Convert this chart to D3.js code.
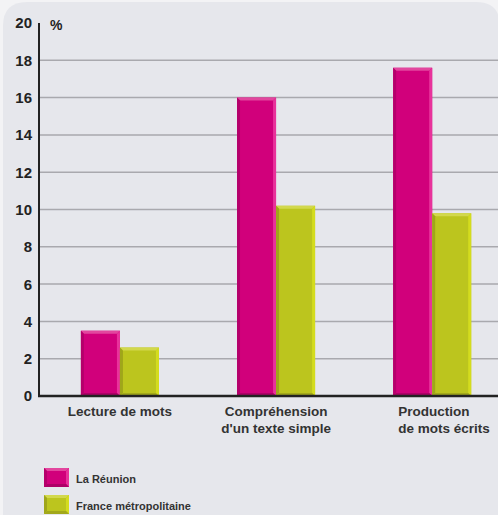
<!DOCTYPE html>
<html>
<head>
<meta charset="utf-8">
<script src="https://cdn.jsdelivr.net/npm/d3@7"></script>
<style>
  html, body { margin: 0; padding: 0; background: #f3f3f5; }
  svg { display: block; font-family: "Liberation Sans", Arial, sans-serif; }
</style>
</head>
<body>
<div id="chart"></div>
<script>
// Values
const categories = ["Lecture de mots", "Compréhension d'un texte simple", "Production de mots écrits"];
const categoryLines = [["Lecture de mots"], ["Compréhension", "d'un texte simple"], ["Production", "de mots écrits"]];
const seriesNames = ["La Réunion", "France métropolitaine"];
const reunionValues = [3.5, 16.0, 17.6];
const franceValues = [2.6, 10.2, 9.8];
const yTicks = [0, 2, 4, 6, 8, 10, 12, 14, 16, 18, 20];

// bevel colours per series: main, top, left, right, bottom
const palette = {
  "La Réunion": { main: "#d1007b", top: "#e2469e", left: "#b5006b", right: "#e8329b", bottom: "#ad0067" },
  "France métropolitaine": { main: "#bcc51e", top: "#d2d84c", left: "#9fa61a", right: "#d4dc1e", bottom: "#a2a81b" }
};

const width = 498, height = 515;
const svg = d3.select("#chart").append("svg")
  .attr("width", width)
  .attr("height", height);

// Panel background (rounded top corners)
const px0 = 3, py0 = 2, px1 = 500, r = 24;
svg.append("path")
  .attr("d", `M ${px0} ${height + 5} L ${px0} ${py0 + r} Q ${px0} ${py0} ${px0 + r} ${py0} L ${px1 - r} ${py0} Q ${px1} ${py0} ${px1} ${py0 + r} L ${px1} ${height + 5} Z`)
  .attr("fill", "#e6e7ec");

const axisX = 39, baseY = 396, topY = 23;

const y = d3.scaleLinear().domain([0, 20]).range([baseY, topY]);

const x = d3.scaleBand()
  .domain(categories)
  .range([axisX, width])
  .paddingInner(0.5)
  .paddingOuter(0.22)
  .align(0.61);

const xs = d3.scaleBand()
  .domain(seriesNames)
  .range([0, x.bandwidth()]);

// Gridlines
svg.append("g")
  .selectAll("line")
  .data(yTicks.filter(t => t > 0 && t < 20))
  .enter()
  .append("line")
  .attr("x1", axisX)
  .attr("x2", width)
  .attr("y1", d => y(d))
  .attr("y2", d => y(d))
  .attr("stroke", "#a9a9ae")
  .attr("stroke-width", 1.5);

// Tick labels
svg.append("g")
  .selectAll("text")
  .data(yTicks)
  .enter()
  .append("text")
  .attr("x", 32)
  .attr("y", d => y(d))
  .attr("dy", "0.36em")
  .attr("text-anchor", "end")
  .attr("font-size", "15px")
  .attr("font-weight", "bold")
  .attr("fill", "#222")
  .text(d => d);

svg.append("text")
  .attr("x", 50)
  .attr("y", 30)
  .attr("font-size", "14px")
  .attr("font-weight", "bold")
  .attr("fill", "#222")
  .text("%");

// Bevelled bar drawing
function bevelBar(g, x0, y0, w, h, c) {
  const b = 3;
  const x1 = x0 + w, y1 = y0 + h;
  g.append("rect").attr("x", x0).attr("y", y0).attr("width", w).attr("height", h).attr("fill", c.main);
  const poly = (pts, fill) => g.append("polygon").attr("points", pts.map(p => p.join(",")).join(" ")).attr("fill", fill);
  poly([[x0, y0], [x1, y0], [x1 - b, y0 + b], [x0 + b, y0 + b]], c.top);
  poly([[x0, y0], [x0 + b, y0 + b], [x0 + b, y1 - b], [x0, y1]], c.left);
  poly([[x1, y0], [x1, y1], [x1 - b, y1 - b], [x1 - b, y0 + b]], c.right);
  poly([[x0, y1], [x0 + b, y1 - b], [x1 - b, y1 - b], [x1, y1]], c.bottom);
}

const seriesData = [
  { name: seriesNames[0], values: reunionValues },
  { name: seriesNames[1], values: franceValues }
];

const bars = svg.append("g");
seriesData.forEach(s => {
  s.values.forEach((v, i) => {
    const cat = categories[i];
    const bx = x(cat) + xs(s.name);
    bevelBar(bars, bx, y(v), xs.bandwidth(), baseY - y(v), palette[s.name]);
  });
});

// Axes lines
svg.append("line")
  .attr("x1", axisX).attr("x2", axisX)
  .attr("y1", topY).attr("y2", baseY)
  .attr("stroke", "#222").attr("stroke-width", 2);

svg.append("line")
  .attr("x1", axisX - 1).attr("x2", width)
  .attr("y1", baseY).attr("y2", baseY)
  .attr("stroke", "#222").attr("stroke-width", 2.5);

// Category labels (last one is left-aligned in the original)
const labels = svg.append("g")
  .selectAll("text")
  .data(categories)
  .enter()
  .append("text")
  .attr("text-anchor", (d, i) => i === categories.length - 1 ? "start" : "middle")
  .attr("font-size", "13.5px")
  .attr("font-weight", "bold")
  .attr("fill", "#333");

labels.each(function(d, i) {
  const t = d3.select(this);
  const lx = i === categories.length - 1 ? x(d) + 5 : x(d) + x.bandwidth() / 2;
  categoryLines[i].forEach((line, j) => {
    t.append("tspan")
      .attr("x", lx)
      .attr("y", 416 + j * 17)
      .text(line);
  });
});

// Legend
const legend = svg.append("g")
  .selectAll("g")
  .data(seriesNames)
  .enter()
  .append("g")
  .attr("transform", (d, i) => `translate(44, ${468 + i * 27})`);

legend.each(function(d) {
  bevelBar(d3.select(this), 0, 0, 25, 19, palette[d]);
});

legend.append("text")
  .attr("x", 32)
  .attr("y", 14.5)
  .attr("font-size", "11px")
  .attr("font-weight", "bold")
  .attr("fill", "#333")
  .text(d => d);
</script>
</body>
</html>
